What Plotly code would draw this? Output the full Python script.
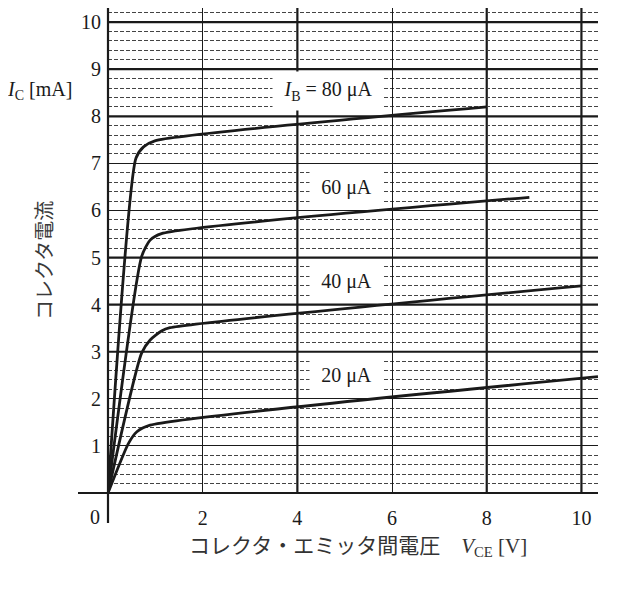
import plotly.graph_objects as go

# collector characteristic curves (V_CE [V], I_C [mA])
vce_20 = [0, 0.43, 0.61, 0.89, 10.35]
ic_20 = [0, 1.05, 1.30, 1.44, 2.47]
vce_40 = [0, 0.71, 0.89, 1.13, 1.31, 10.0]
ic_40 = [0, 2.97, 3.25, 3.44, 3.51, 4.40]
vce_60 = [0, 0.71, 0.89, 1.13, 8.9]
ic_60 = [0, 5.02, 5.37, 5.51, 6.28]
vce_80 = [0, 0.59, 0.75, 0.99, 8.0]
ic_80 = [0, 7.11, 7.35, 7.48, 8.20]

x_ticks = [2, 4, 6, 8, 10]
y_ticks = [1, 2, 3, 4, 5, 6, 7, 8, 9, 10]
x_heavy = [4, 8, 10]
y_heavy = [3, 4, 5, 8, 9, 10]

ib_text = ["<i>I</i><sub>B</sub> = 80 μA", "60 μA", "40 μA", "20 μA"]
ib_pos_x = [4.65, 5.04, 5.04, 5.04]
ib_pos_y = [8.53, 6.5, 4.5, 2.5]

SERIF = "Liberation Serif, Times New Roman, Noto Sans CJK JP, serif"
INK = "#1a1a1a"

fig = go.Figure()

for xs, ys in [(vce_20, ic_20), (vce_40, ic_40), (vce_60, ic_60), (vce_80, ic_80)]:
    fig.add_trace(go.Scatter(x=xs, y=ys, mode="lines",
                             line=dict(color=INK, width=2.8, shape="spline", smoothing=0.6),
                             hoverinfo="skip", showlegend=False))

# heavier grid lines
for v in x_heavy:
    fig.add_shape(type="line", x0=v, x1=v, y0=0, y1=1, xref="x", yref="paper",
                  line=dict(color=INK, width=2.2), layer="below")
for v in y_heavy:
    fig.add_shape(type="line", x0=0, x1=1, y0=v, y1=v, xref="paper", yref="y",
                  line=dict(color=INK, width=2.2), layer="below")

# axis lines, running past the origin
fig.add_shape(type="line", x0=-30 / 490, x1=1, y0=0, y1=0, xref="paper", yref="paper",
              line=dict(color=INK, width=2))
fig.add_shape(type="line", x0=0, x1=0, y0=-30 / 485, y1=1, xref="paper", yref="paper",
              line=dict(color=INK, width=2.2))

for t, x, y in zip(ib_text, ib_pos_x, ib_pos_y):
    w = 110 if "I" in t else 73
    fig.add_annotation(x=x, y=y, xref="x", yref="y", text=t, showarrow=False,
                       bgcolor="white", width=w, height=38, borderpad=0,
                       font=dict(family=SERIF, size=20, color=INK))


def side_text(x, y, text, **kw):
    fig.add_annotation(x=x, y=y, xref="paper", yref="paper", text=text, showarrow=False,
                       xanchor="center", yanchor="middle", **kw)


side_text(-0.1388, 0.829, "<i>I</i><sub>C</sub> [mA]", font=dict(family=SERIF, size=20, color=INK))
side_text(-0.1327, 0.4804, "コレクタ電流", textangle=-90,
          font=dict(family="Noto Sans CJK JP", size=20, color="#3a3a3a"))
side_text(-0.0265, -0.0495, "0", font=dict(family=SERIF, size=20, color=INK))
side_text(0.5102, -0.1113, "コレクタ・エミッタ間電圧　<i>V</i><sub>CE</sub> [V]",
          font=dict(family=SERIF, size=21, color="#333"))

fig.update_xaxes(range=[0, 10.35], tickvals=x_ticks, showgrid=True, gridcolor=INK, gridwidth=1.2,
                 zeroline=False, showline=False, ticks="outside", ticklen=7,
                 tickcolor="rgba(0,0,0,0)", tickfont=dict(family=SERIF, size=20, color=INK))
fig.update_yaxes(range=[0, 10.3], tickvals=y_ticks, showgrid=True, gridcolor=INK, gridwidth=1.2,
                 zeroline=False, showline=False, ticks="outside", ticklen=2,
                 tickcolor="rgba(0,0,0,0)", tickfont=dict(family=SERIF, size=20, color=INK),
                 minor=dict(tick0=0, dtick=0.2, showgrid=True, gridcolor="#444",
                            gridwidth=1, griddash="4px,2px"))

fig.update_layout(width=635, height=600, plot_bgcolor="white", paper_bgcolor="white",
                  margin=dict(l=100, r=45, t=0, b=115))

fig.write_html("out.html")
